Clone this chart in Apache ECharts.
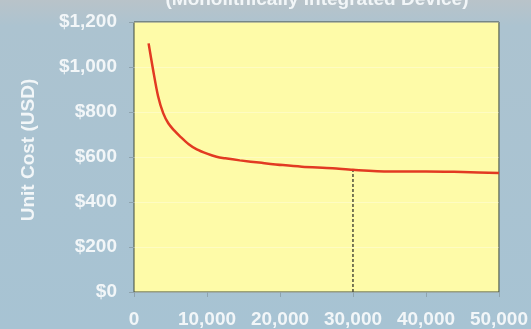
<!DOCTYPE html>
<html>
<head>
<meta charset="utf-8">
<script src="https://cdn.jsdelivr.net/npm/echarts@6/dist/echarts.min.js"></script>
<style>
  html, body { margin: 0; padding: 0; }
  #chart { width: 531px; height: 329px; }
</style>
</head>
<body>
<div id="chart"></div>
<script>
// Production volume (units) and resulting unit cost (USD)
const volumes = [2000, 2600, 3300, 4000, 4700, 5500, 6300, 7500, 8600, 10000, 11300, 12500,
                 14500, 17500, 20400, 23000, 27200, 30000, 35000, 40000, 45000, 50000];
const unitCosts = [1105, 990, 870, 795, 750, 718, 692, 657, 634, 615, 601, 594,
                   585, 574, 564, 557, 550, 543, 536, 536, 533, 529];

// Reference volume marked with a dashed drop line
const markVolume = 30000;
const markCost = 540;

const xTicks = [0, 10000, 20000, 30000, 40000, 50000];
const yTicks = [0, 200, 400, 600, 800, 1000, 1200];

const titleText = '(Monolithically Integrated Device)';
const yAxisName = 'Unit Cost (USD)';

const fmt = v => v.toLocaleString('en-US');
const font = '"Liberation Sans", Arial, Helvetica, sans-serif';
const labelColor = '#f2f6f8';

const chart = echarts.init(document.getElementById('chart'), null, { renderer: 'canvas' });

chart.setOption({
  animation: false,
  backgroundColor: {
    type: 'linear', x: 0, y: 0, x2: 0, y2: 1,
    colorStops: [
      { offset: 0, color: '#b9c3c9' },
      { offset: 0.08, color: '#acc3d0' },
      { offset: 1, color: '#a7c3d3' }
    ]
  },
  graphic: [
    {
      type: 'text', x: 317, y: -10,
      style: {
        text: titleText, fill: labelColor,
        font: 'bold 19px ' + font,
        align: 'center', verticalAlign: 'top'
      }
    },
    {
      type: 'text', rotation: Math.PI / 2, x: 29, y: 150,
      style: {
        text: yAxisName, fill: labelColor,
        font: 'bold 19px ' + font,
        align: 'center', verticalAlign: 'middle'
      }
    }
  ],
  grid: {
    left: 134, right: 31, top: 22, bottom: 37,
    show: true,
    backgroundColor: '#fefba8',
    borderColor: '#3f4a3c',
    borderWidth: 1
  },
  xAxis: {
    type: 'value',
    min: xTicks[0], max: xTicks[xTicks.length - 1], interval: 10000,
    axisLine: { show: false },
    axisTick: { show: true, length: 5, lineStyle: { color: '#8fa3ad' } },
    splitLine: { show: false },
    axisLabel: {
      margin: 18, color: labelColor,
      fontFamily: font, fontWeight: 'bold', fontSize: 19,
      formatter: v => fmt(v)
    }
  },
  yAxis: {
    type: 'value',
    min: yTicks[0], max: yTicks[yTicks.length - 1], interval: 200,
    axisLine: { show: false },
    axisTick: { show: true, length: 5, lineStyle: { color: '#8fa3ad' } },
    splitLine: { show: true, lineStyle: { color: 'rgba(255,255,255,0.3)', width: 1 } },
    axisLabel: {
      margin: 17, color: labelColor,
      fontFamily: font, fontWeight: 'bold', fontSize: 19,
      formatter: v => '$' + fmt(v)
    }
  },
  series: [
    {
      type: 'line',
      data: [[markVolume, 0], [markVolume, markCost]],
      symbol: 'none',
      lineStyle: { color: '#4d4d3c', width: 1.5, type: [3, 2] },
      z: 2
    },
    {
      type: 'line',
      data: volumes.map((v, i) => [v, unitCosts[i]]),
      smooth: 0.3,
      symbol: 'none',
      lineStyle: { color: '#e23a22', width: 2.5 },
      z: 3
    }
  ]
});
</script>
</body>
</html>
